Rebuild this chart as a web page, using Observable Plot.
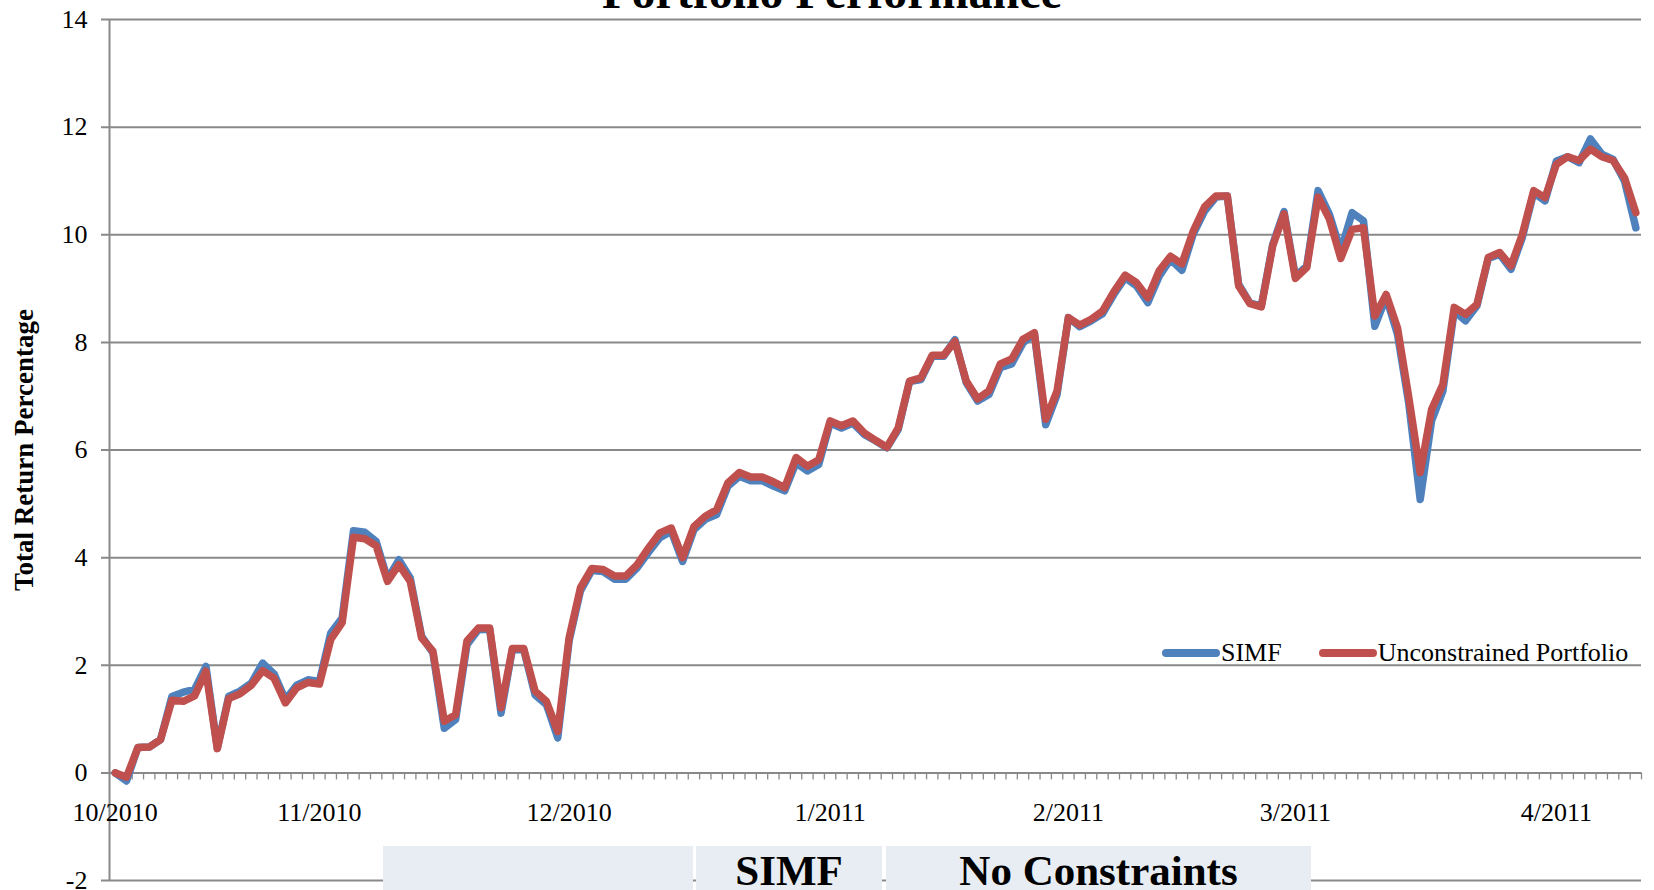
<!DOCTYPE html>
<html>
<head>
<meta charset="utf-8">
<script src="https://cdn.jsdelivr.net/npm/d3@7"></script>
<script src="https://cdn.jsdelivr.net/npm/@observablehq/plot@0.6"></script>
<style>
  html, body { margin: 0; padding: 0; background: #ffffff; }
  #wrap { position: relative; width: 1654px; height: 890px; overflow: hidden;
          font-family: "Liberation Serif", "Times New Roman", serif; color: #000; }
  #chart { position: absolute; left: 0; top: 0; }
  #title { position: absolute; left: 0; width: 1664px; top: -32px; text-align: center;
           font-weight: bold; font-size: 48px; line-height: 48px; white-space: nowrap; }
  #legend { position: absolute; left: 1162px; top: 640px; height: 26px; display: flex;
            align-items: center; font-size: 26px; line-height: 26px; white-space: nowrap; }
  #legend .sw { display: inline-block; width: 58px; height: 8px; border-radius: 4px; }
  #legend .lab { margin-left: 1px; margin-right: 37px; }
  .cell { position: absolute; top: 846px; height: 50px; background: #E8ECF3;
          font-weight: bold; font-size: 43px; line-height: 43px; text-align: center; }
  .cell span { position: absolute; left: 0; right: 0; top: 3px; }
</style>
</head>
<body>
<div id="wrap">
  <div id="chart"></div>
  <div id="title"></div>
  <div id="legend"></div>
</div>
<script>
// ---- data ----
const titleText = "Portfolio Performance";
const yLabel = "Total Return Percentage";
const seriesNames = ["SIMF", "Unconstrained Portfolio"];
const seriesColors = ["#4F81BD", "#C0504D"];
const monthLabels = ["10/2010", "11/2010", "12/2010", "1/2011", "2/2011", "3/2011", "4/2011"];
const monthIndex = [0, 18, 40, 63, 84, 104, 127];
const yTicks = [-2, 0, 2, 4, 6, 8, 10, 12, 14];
const tableCells = ["", "SIMF", "No Constraints"];

const simf = [
  0, -0.15, 0.47, 0.48, 0.62, 1.42, 1.5, 1.55, 1.98, 0.46,
  1.42, 1.52, 1.67, 2.04, 1.84, 1.36, 1.63, 1.73, 1.7, 2.6,
  2.88, 4.5, 4.47, 4.3, 3.6, 3.96, 3.62, 2.54, 2.23, 0.83,
  0.99, 2.38, 2.66, 2.67, 1.11, 2.29, 2.29, 1.45, 1.27, 0.65,
  2.45, 3.38, 3.76, 3.74, 3.6, 3.6, 3.81, 4.1, 4.37, 4.49,
  3.93, 4.52, 4.71, 4.8, 5.33, 5.51, 5.43, 5.43, 5.33, 5.24,
  5.76, 5.61, 5.73, 6.5, 6.41, 6.5, 6.29, 6.17, 6.04, 6.38,
  7.27, 7.31, 7.74, 7.74, 8.05, 7.25, 6.91, 7.03, 7.53, 7.6,
  7.99, 8.16, 6.47, 7.03, 8.46, 8.29, 8.4, 8.53, 8.89, 9.2,
  9.05, 8.74, 9.23, 9.54, 9.34, 10.01, 10.44, 10.7, 10.72, 9.08,
  8.73, 8.68, 9.82, 10.43, 9.23, 9.42, 10.82, 10.38, 9.7, 10.41,
  10.26, 8.3, 8.84, 8.15, 6.85, 5.08, 6.54, 7.1, 8.58, 8.4,
  8.68, 9.56, 9.64, 9.36, 9.95, 10.78, 10.63, 11.37, 11.45, 11.34,
  11.78, 11.5, 11.4, 11.0, 10.13
];
const unconstrained = [
  0, -0.08, 0.47, 0.48, 0.62, 1.35, 1.33, 1.43, 1.89, 0.45,
  1.38, 1.47, 1.63, 1.9, 1.76, 1.3, 1.58, 1.68, 1.65, 2.48,
  2.79, 4.38, 4.35, 4.22, 3.56, 3.87, 3.56, 2.51, 2.26, 0.96,
  1.08, 2.45, 2.69, 2.69, 1.21, 2.31, 2.31, 1.52, 1.33, 0.77,
  2.51, 3.44, 3.8, 3.78, 3.66, 3.66, 3.87, 4.18, 4.46, 4.55,
  4.0, 4.58, 4.77, 4.89, 5.39, 5.58, 5.5, 5.5, 5.41, 5.3,
  5.86, 5.7, 5.82, 6.54, 6.45, 6.54, 6.32, 6.18, 6.05, 6.41,
  7.28, 7.34, 7.76, 7.76, 8.02, 7.28, 6.95, 7.1, 7.6, 7.69,
  8.06, 8.18, 6.57, 7.1, 8.46, 8.32, 8.43, 8.58, 8.94, 9.25,
  9.11, 8.83, 9.33, 9.6, 9.46, 10.07, 10.52, 10.72, 10.72, 9.05,
  8.72, 8.66, 9.79, 10.39, 9.19, 9.39, 10.7, 10.29, 9.56, 10.1,
  10.13, 8.49, 8.89, 8.27, 6.97, 5.58, 6.75, 7.22, 8.65, 8.52,
  8.71, 9.58, 9.67, 9.42, 10.01, 10.82, 10.69, 11.31, 11.45, 11.38,
  11.59, 11.45, 11.38, 11.06, 10.41
];

// ---- build ----
const N = simf.length;
const rows = [];
simf.forEach((v, i) => rows.push({i, v, s: seriesNames[0]}));
unconstrained.forEach((v, i) => rows.push({i, v, s: seriesNames[1]}));
const bounds = d3.range(1, N + 1).map(k => k - 0.5);

const gray = "#898989";
const font = "Liberation Serif";

const chart = Plot.plot({
  width: 1654,
  height: 890,
  marginLeft: 109,
  marginRight: 13,
  marginTop: 19,
  marginBottom: 10,
  x: {domain: [-0.5, N - 0.5], axis: null},
  y: {domain: [yTicks[0], yTicks[yTicks.length - 1]], axis: null},
  color: {domain: seriesNames, range: seriesColors},
  style: {fontFamily: font, background: "white", color: "black"},
  marks: [
    Plot.ruleY(yTicks, {y: d => d, stroke: gray, strokeWidth: 2, insetLeft: -8}),
    Plot.ruleX([-0.5], {y1: () => yTicks[0], y2: () => yTicks[yTicks.length - 1], stroke: gray, strokeWidth: 2}),
    Plot.ruleX(bounds, {x: d => d, y1: () => 0, y2: () => 0, insetBottom: -7, stroke: gray, strokeWidth: 1.3}),
    Plot.text(yTicks, {frameAnchor: "left", y: d => d, text: d => String(d), textAnchor: "end",
                       dx: -22, fontSize: 26, fontFamily: font, fill: "black"}),
    Plot.text(monthLabels, {x: (d, i) => monthIndex[i], y: () => 0, text: d => d, dy: 40,
                            fontSize: 26, fontFamily: font, fill: "black"}),
    Plot.text([yLabel], {frameAnchor: "left", textAnchor: "middle", lineAnchor: "middle",
                         text: d => d, dx: -85, rotate: -90,
                         fontSize: 27, fontWeight: "bold", fontFamily: font, fill: "black"}),
    Plot.line(rows, {x: "i", y: "v", z: "s", stroke: "s", strokeWidth: 7.5,
                     strokeLinejoin: "round", strokeLinecap: "round"})
  ]
});
document.getElementById("chart").appendChild(chart);

// title
document.getElementById("title").textContent = titleText;

// legend
const legend = document.getElementById("legend");
seriesNames.forEach((name, k) => {
  const sw = document.createElement("span");
  sw.className = "sw";
  sw.style.background = seriesColors[k];
  const lab = document.createElement("span");
  lab.className = "lab";
  lab.textContent = name;
  legend.appendChild(sw);
  legend.appendChild(lab);
});

// table cells below the chart
const cellBox = [[383, 310], [696, 186], [886, 425]];
const wrap = document.getElementById("wrap");
tableCells.forEach((t, k) => {
  const c = document.createElement("div");
  c.className = "cell";
  c.style.left = cellBox[k][0] + "px";
  c.style.width = cellBox[k][1] + "px";
  const s = document.createElement("span");
  s.textContent = t;
  c.appendChild(s);
  wrap.appendChild(c);
});
</script>
</body>
</html>
